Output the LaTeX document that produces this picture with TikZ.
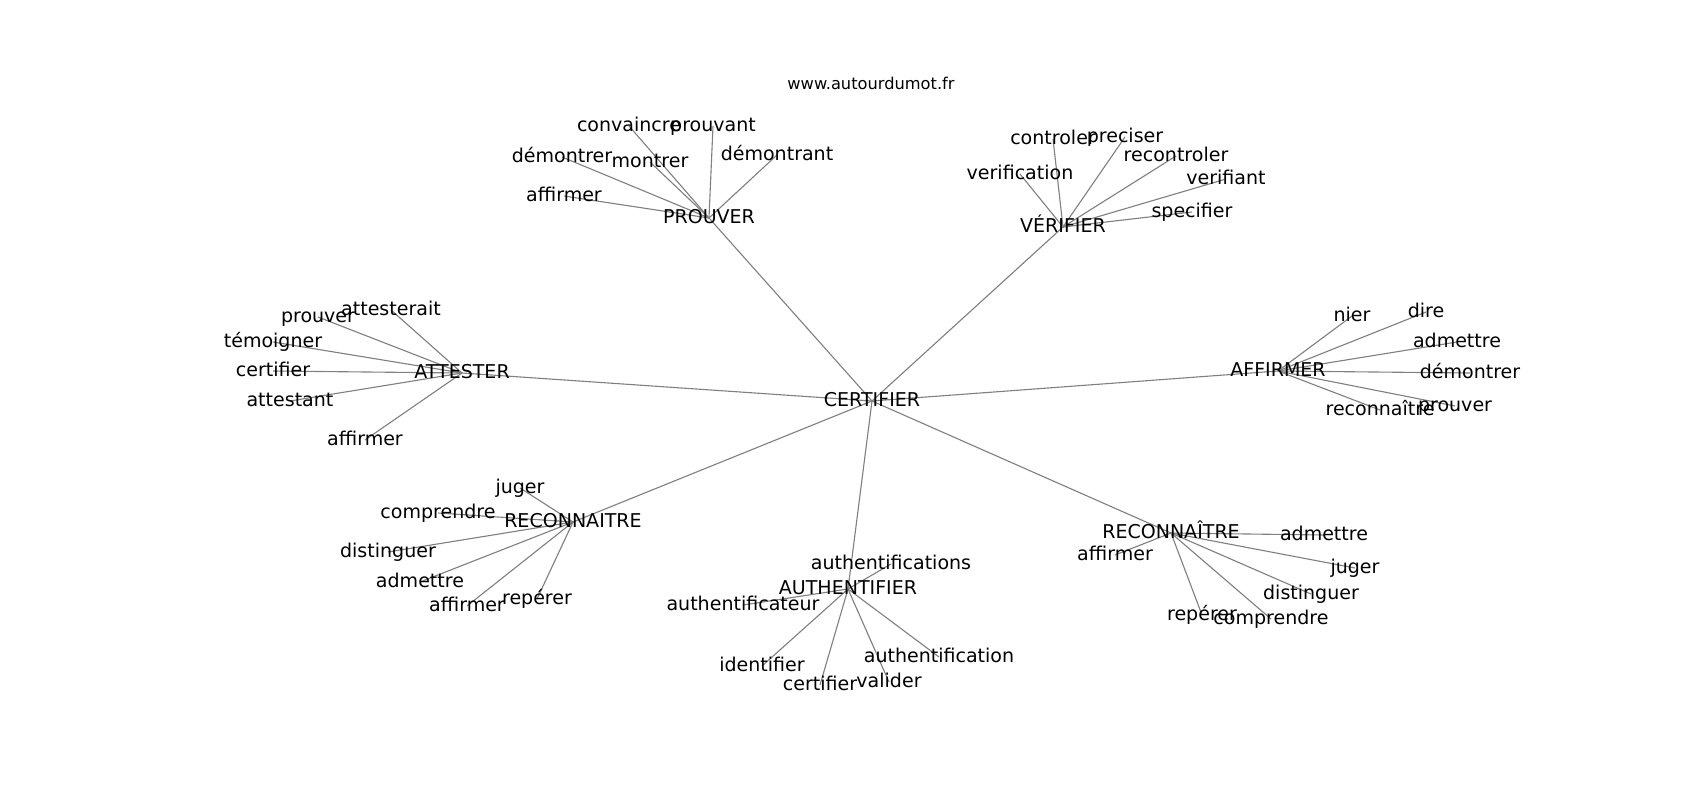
\documentclass[tikz,border=0pt]{standalone}
\usepackage{fontspec}
\setmainfont{DejaVu Sans}
\begin{document}
\begin{tikzpicture}[x=0.72bp,y=-0.72bp,
  lbl/.style={inner sep=0pt,text height=0.73em,text depth=0pt,font=\fontsize{13.7bp}{16bp}\selectfont,text=black},
  ttl/.style={inner sep=0pt,font=\fontsize{11.7bp}{14bp}\selectfont,text=black},
  edge/.style={draw=black!50,line width=0.8bp}]
\fill[white] (0,0) rectangle (1700,800);
\useasboundingbox (0,0) rectangle (1700,800);
\node[ttl] (title) at (871,83) {www.autourdumot.fr};
% hubs
\coordinate (cert) at (872,401);
\coordinate (prouver) at (709,218);
\coordinate (verifier) at (1063,227);
\coordinate (attester) at (462,373);
\coordinate (affirmer) at (1278,371);
\coordinate (reconL) at (573,522);
\coordinate (authent) at (848,589);
\coordinate (reconR) at (1171,533);
% PROUVER leaves
\coordinate (p1) at (629,126);
\coordinate (p2) at (713,126);
\coordinate (p3) at (562,157);
\coordinate (p4) at (650,162);
\coordinate (p5) at (777,155);
\coordinate (p6) at (564,196);
% VERIFIER leaves
\coordinate (v1) at (1053,139);
\coordinate (v2) at (1125,137);
\coordinate (v3) at (1176,156);
\coordinate (v4) at (1020,174);
\coordinate (v5) at (1226,179);
\coordinate (v6) at (1192,212);
% ATTESTER leaves
\coordinate (a1) at (391,310);
\coordinate (a2) at (318,317);
\coordinate (a3) at (273,342);
\coordinate (a4) at (273,371);
\coordinate (a5) at (290,401);
\coordinate (a6) at (365,440);
% AFFIRMER leaves
\coordinate (f1) at (1352,316);
\coordinate (f2) at (1426,312);
\coordinate (f3) at (1457,342);
\coordinate (f4) at (1470,373);
\coordinate (f5) at (1455,406);
\coordinate (f6) at (1380,410);
% RECONNAITRE left leaves
\coordinate (l1) at (520,488);
\coordinate (l2) at (438,513);
\coordinate (l3) at (388,552);
\coordinate (l4) at (420,582);
\coordinate (l5) at (467,606);
\coordinate (l6) at (537,599);
% AUTHENTIFIER leaves
\coordinate (u1) at (891,564);
\coordinate (u2) at (743,605);
\coordinate (u3) at (762,666);
\coordinate (u4) at (820,685);
\coordinate (u5) at (889,682);
\coordinate (u6) at (939,657);
% RECONNAITRE right leaves
\coordinate (r1) at (1324,535);
\coordinate (r2) at (1115,555);
\coordinate (r3) at (1355,568);
\coordinate (r4) at (1311,594);
\coordinate (r5) at (1202,615);
\coordinate (r6) at (1271,619);
% edges
\foreach \h in {prouver,verifier,attester,affirmer,reconL,authent,reconR}
  \draw[edge] (cert) -- (\h);
\foreach \n in {p1,p2,p3,p4,p5,p6} \draw[edge] (prouver) -- (\n);
\foreach \n in {v1,v2,v3,v4,v5,v6} \draw[edge] (verifier) -- (\n);
\foreach \n in {a1,a2,a3,a4,a5,a6} \draw[edge] (attester) -- (\n);
\foreach \n in {f1,f2,f3,f4,f5,f6} \draw[edge] (affirmer) -- (\n);
\foreach \n in {l1,l2,l3,l4,l5,l6} \draw[edge] (reconL) -- (\n);
\foreach \n in {u1,u2,u3,u4,u5,u6} \draw[edge] (authent) -- (\n);
\foreach \n in {r1,r2,r3,r4,r5,r6} \draw[edge] (reconR) -- (\n);
% labels
\node[lbl] (tcert) at (cert) {CERTIFIER};
\node[lbl] (tprouver) at (prouver) {PROUVER};
\node[lbl] (tverifier) at (verifier) {VÉRIFIER};
\node[lbl] (tattester) at (attester) {ATTESTER};
\node[lbl] (taffirmer) at (affirmer) {AFFIRMER};
\node[lbl] (treconL) at (reconL) {RECONNAITRE};
\node[lbl] (tauthent) at (authent) {AUTHENTIFIER};
\node[lbl] (treconR) at (reconR) {RECONNAÎTRE};
\node[lbl] (tp1) at (p1) {convaincre};
\node[lbl] (tp2) at (p2) {prouvant};
\node[lbl] (tp3) at (p3) {démontrer};
\node[lbl] (tp4) at (p4) {montrer};
\node[lbl] (tp5) at (p5) {démontrant};
\node[lbl] (tp6) at (p6) {affirmer};
\node[lbl] (tv1) at (v1) {controler};
\node[lbl] (tv2) at (v2) {preciser};
\node[lbl] (tv3) at (v3) {recontroler};
\node[lbl] (tv4) at (v4) {verification};
\node[lbl] (tv5) at (v5) {verifiant};
\node[lbl] (tv6) at (v6) {specifier};
\node[lbl] (ta1) at (a1) {attesterait};
\node[lbl] (ta2) at (a2) {prouver};
\node[lbl] (ta3) at (a3) {témoigner};
\node[lbl] (ta4) at (a4) {certifier};
\node[lbl] (ta5) at (a5) {attestant};
\node[lbl] (ta6) at (a6) {affirmer};
\node[lbl] (tf1) at (f1) {nier};
\node[lbl] (tf2) at (f2) {dire};
\node[lbl] (tf3) at (f3) {admettre};
\node[lbl] (tf4) at (f4) {démontrer};
\node[lbl] (tf5) at (f5) {prouver};
\node[lbl] (tf6) at (f6) {reconnaître};
\node[lbl] (tl1) at (l1) {juger};
\node[lbl] (tl2) at (l2) {comprendre};
\node[lbl] (tl3) at (l3) {distinguer};
\node[lbl] (tl4) at (l4) {admettre};
\node[lbl] (tl5) at (l5) {affirmer};
\node[lbl] (tl6) at (l6) {repérer};
\node[lbl] (tu1) at (u1) {authentifications};
\node[lbl] (tu2) at (u2) {authentificateur};
\node[lbl] (tu3) at (u3) {identifier};
\node[lbl] (tu4) at (u4) {certifier};
\node[lbl] (tu5) at (u5) {valider};
\node[lbl] (tu6) at (u6) {authentification};
\node[lbl] (tr1) at (r1) {admettre};
\node[lbl] (tr2) at (r2) {affirmer};
\node[lbl] (tr3) at (r3) {juger};
\node[lbl] (tr4) at (r4) {distinguer};
\node[lbl] (tr5) at (r5) {repérer};
\node[lbl] (tr6) at (r6) {comprendre};
\end{tikzpicture}
\end{document}
